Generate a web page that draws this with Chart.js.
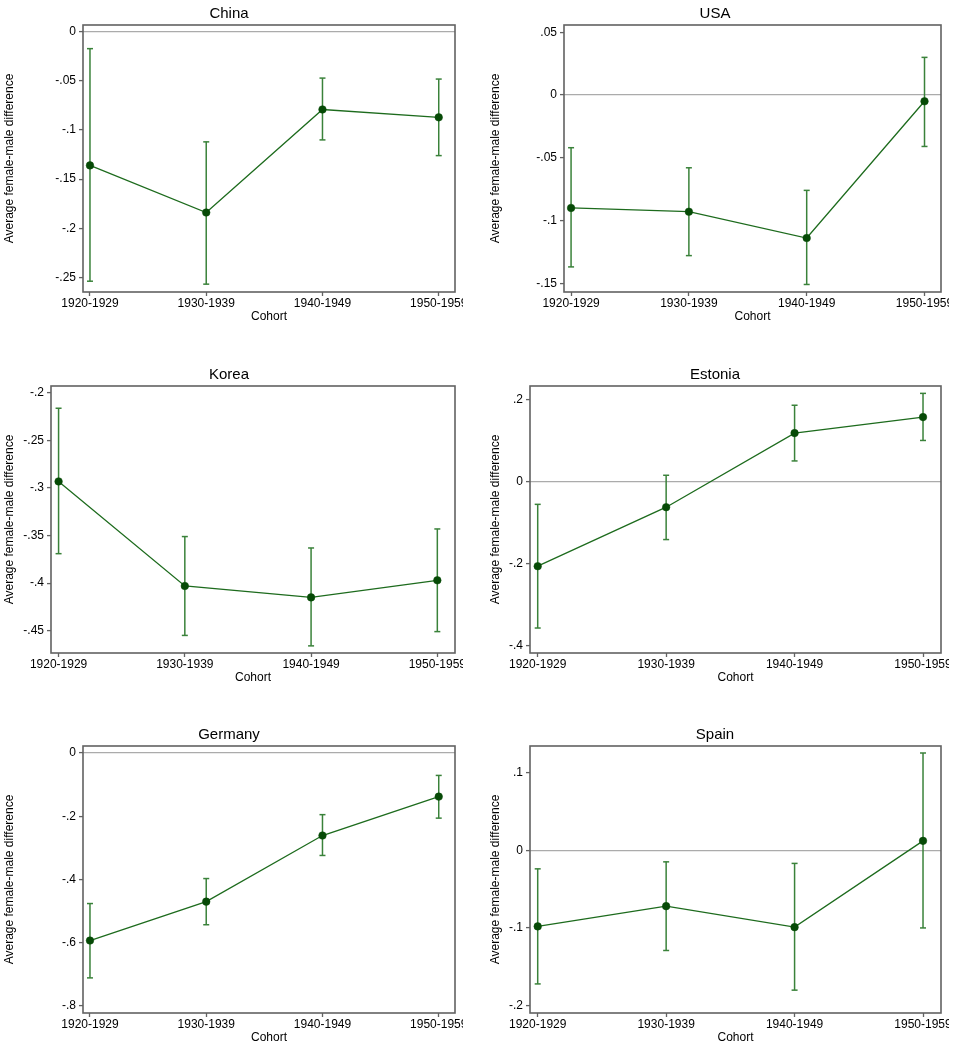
<!DOCTYPE html>
<html><head><meta charset="utf-8">
<script src="https://cdn.jsdelivr.net/npm/chart.js@4.4.1/dist/chart.umd.min.js"></script>
<style>
html,body{margin:0;padding:0;background:#fff;}
#wrap{position:relative;width:956px;height:1050px;overflow:hidden;background:#fff;}
canvas{position:absolute;}
</style></head><body><div id="wrap"></div>
<script>
// ---- data ----
const cohorts = ['1920-1929', '1930-1939', '1940-1949', '1950-1959'];

const chinaMean = [-0.136, -0.184, -0.079, -0.087];
const chinaLow  = [-0.254, -0.257, -0.110, -0.126];
const chinaHigh = [-0.017, -0.112, -0.047, -0.048];
const chinaTicks = [0, -0.05, -0.1, -0.15, -0.2, -0.25];

const usaMean = [-0.090, -0.093, -0.114, -0.005];
const usaLow  = [-0.137, -0.128, -0.151, -0.041];
const usaHigh = [-0.042, -0.058, -0.076, 0.030];
const usaTicks = [0.05, 0, -0.05, -0.1, -0.15];

const koreaMean = [-0.293, -0.403, -0.415, -0.397];
const koreaLow  = [-0.369, -0.455, -0.466, -0.451];
const koreaHigh = [-0.216, -0.351, -0.363, -0.343];
const koreaTicks = [-0.2, -0.25, -0.3, -0.35, -0.4, -0.45];

const estoniaMean = [-0.206, -0.062, 0.119, 0.158];
const estoniaLow  = [-0.357, -0.141, 0.051, 0.101];
const estoniaHigh = [-0.055, 0.016, 0.187, 0.216];
const estoniaTicks = [0.2, 0, -0.2, -0.4];

const germanyMean = [-0.593, -0.470, -0.261, -0.138];
const germanyLow  = [-0.711, -0.543, -0.324, -0.206];
const germanyHigh = [-0.476, -0.397, -0.195, -0.071];
const germanyTicks = [0, -0.2, -0.4, -0.6, -0.8];

const spainMean = [-0.098, -0.072, -0.099, 0.012];
const spainLow  = [-0.172, -0.129, -0.180, -0.100];
const spainHigh = [-0.024, -0.015, -0.017, 0.125];
const spainTicks = [0.1, 0, -0.1, -0.2];

const yTitle = 'Average female-male difference';
const xTitle = 'Cohort';

// ---- layout (positions / styles only) ----
const FONT = '"Liberation Sans", Arial, Helvetica, sans-serif';
const rowTops = [0, 361, 721];
const colLefts = [0, 478];
const colWidths = [463, 471];
const titleXs = [229, 237];
const canvasH = 335;

const panels = [
  {name: 'China',   mean: chinaMean,   low: chinaLow,   high: chinaHigh,   ticks: chinaTicks,   col: 0, row: 0, frameLeft: 83, yMin: -0.265, yMax: 0.0071},
  {name: 'USA',     mean: usaMean,     low: usaLow,     high: usaHigh,     ticks: usaTicks,     col: 1, row: 0, frameLeft: 86, yMin: -0.157, yMax: 0.0558},
  {name: 'Korea',   mean: koreaMean,   low: koreaLow,   high: koreaHigh,   ticks: koreaTicks,   col: 0, row: 1, frameLeft: 51, yMin: -0.4735, yMax: -0.1926},
  {name: 'Estonia', mean: estoniaMean, low: estoniaLow, high: estoniaHigh, ticks: estoniaTicks, col: 1, row: 1, frameLeft: 52, yMin: -0.418, yMax: 0.234},
  {name: 'Germany', mean: germanyMean, low: germanyLow, high: germanyHigh, ticks: germanyTicks, col: 0, row: 2, frameLeft: 83, yMin: -0.822, yMax: 0.022},
  {name: 'Spain',   mean: spainMean,   low: spainLow,   high: spainHigh,   ticks: spainTicks,   col: 1, row: 2, frameLeft: 52, yMin: -0.2094, yMax: 0.134}
];

const LINE_COLOR = '#1d6b1d';
const MARKER_COLOR = '#064a06';
const ERR_COLOR = '#3a823a';
const FRAME_COLOR = '#626262';
const ZERO_COLOR = '#ababab';

function fmt(v) {
  if (Math.abs(v) < 1e-9) return '0';
  let s = String(Number(v.toFixed(4)));
  return s.replace(/^(-?)0\./, '$1.');
}

const framePlugin = {
  id: 'frame',
  afterDraw(chart) {
    const a = chart.chartArea, c = chart.ctx;
    c.save();
    c.strokeStyle = FRAME_COLOR;
    c.lineWidth = 1.6;
    c.strokeRect(a.left, a.top, a.right - a.left, a.bottom - a.top);
    c.restore();
  }
};

const titlePlugin = {
  id: 'panelTitle',
  afterDraw(chart, args, opts) {
    const c = chart.ctx;
    c.save();
    c.font = '15px ' + FONT;
    c.fillStyle = '#000';
    c.textAlign = 'center';
    c.textBaseline = 'middle';
    c.fillText(opts.text, opts.x, opts.y);
    c.restore();
  }
};

const wrap = document.getElementById('wrap');

panels.forEach(p => {
  const cv = document.createElement('canvas');
  const w = colWidths[p.col];
  cv.width = w; cv.height = canvasH;
  cv.style.width = w + 'px'; cv.style.height = canvasH + 'px';
  cv.style.left = colLefts[p.col] + 'px';
  cv.style.top = rowTops[p.row] + 'px';
  wrap.appendChild(cv);

  const datasets = [{
    data: p.mean.map((y, i) => ({x: i, y})),
    borderColor: LINE_COLOR,
    borderWidth: 1.3,
    pointRadius: 3.8,
    pointBackgroundColor: MARKER_COLOR,
    pointBorderColor: MARKER_COLOR,
    pointBorderWidth: 0.5,
    showLine: true,
    clip: false
  }];
  p.low.forEach((lo, i) => {
    datasets.push({
      data: [{x: i, y: lo}, {x: i, y: p.high[i]}],
      borderColor: ERR_COLOR,
      borderWidth: 1.5,
      showLine: true,
      pointStyle: 'line',
      pointRadius: 3,
      pointBorderColor: ERR_COLOR,
      pointBorderWidth: 1.5,
      clip: false
    });
  });

  new Chart(cv, {
    type: 'scatter',
    data: {datasets},
    options: {
      responsive: false,
      devicePixelRatio: 1,
      animation: false,
      events: [],
      layout: {padding: {top: 25, right: 8, left: 0, bottom: 0}},
      plugins: {
        legend: {display: false},
        tooltip: {enabled: false},
        title: {display: false},
        panelTitle: {text: p.name, x: titleXs[p.col], y: 13.5}
      },
      scales: {
        x: {
          type: 'linear',
          min: -0.06, max: 3.14,
          afterBuildTicks: s => { s.ticks = cohorts.map((c, i) => ({value: i})); },
          afterFit: s => { s.height = canvasH - 25 - 267; s.paddingLeft = 0; s.paddingRight = 0; },
          ticks: {
            callback: v => cohorts[v] !== undefined ? cohorts[v] : '',
            autoSkip: false, maxRotation: 0, minRotation: 0,
            font: {family: FONT, size: 12}, color: '#000', padding: 0
          },
          grid: {display: true, drawOnChartArea: false, color: 'rgba(0,0,0,0)', tickColor: FRAME_COLOR, tickLength: 4, tickWidth: 1.3},
          border: {display: false},
          title: {display: true, text: xTitle, font: {family: FONT, size: 12}, color: '#000', padding: {top: 0, bottom: 11}}
        },
        y: {
          type: 'linear',
          min: p.yMin, max: p.yMax,
          afterBuildTicks: s => { s.ticks = p.ticks.map(v => ({value: v})); },
          afterFit: s => { s.width = p.frameLeft; s.paddingTop = 0; s.paddingBottom = 0; },
          ticks: {
            callback: v => fmt(v),
            autoSkip: false,
            font: {family: FONT, size: 12}, color: '#000', padding: 3
          },
          grid: {
            display: true, drawOnChartArea: true,
            color: ctx => (ctx.tick && Math.abs(ctx.tick.value) < 1e-9) ? ZERO_COLOR : 'rgba(0,0,0,0)',
            lineWidth: 1.2,
            tickColor: FRAME_COLOR, tickLength: 4, tickWidth: 1.3
          },
          border: {display: false},
          title: {display: true, text: yTitle, font: {family: FONT, size: 12}, color: '#000', padding: {top: p.col === 0 ? 2.8 : 10.8, bottom: 0}}
        }
      }
    },
    plugins: [framePlugin, titlePlugin]
  });
});
</script>
</body></html>
